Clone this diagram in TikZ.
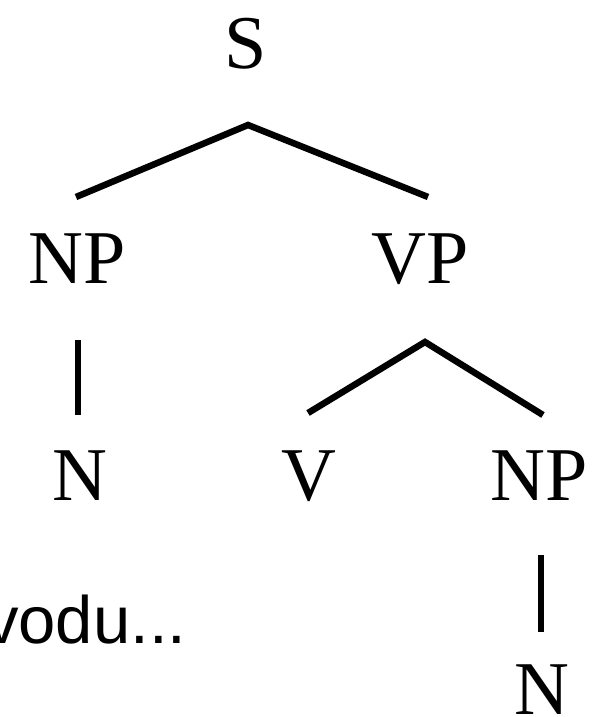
\documentclass[tikz,border=0pt]{standalone}
\usepackage{fontspec}
\setmainfont{Liberation Serif}
\newfontfamily\sansf{Liberation Sans}
\begin{document}
\begin{tikzpicture}[x=1pt,y=1pt,
  lab/.style={inner sep=0pt, anchor=base, font=\fontsize{76}{86}\selectfont},
  branch/.style={line width=6.5pt, line join=miter, line cap=butt}]
\useasboundingbox (0,0) rectangle (605,-717);
\node[lab] (S) at (246,-68) {S};
\node[lab] (NP1) at (77,-283) {NP};
\node[lab] (VP) at (420,-283) {VP};
\node[lab] (N1) at (80,-500) {N};
\node[lab] (V) at (309,-500) {V};
\node[lab] (NP2) at (539,-500) {NP};
\node[lab] (N2) at (542,-714) {N};
\node[inner sep=0pt, anchor=base west, font=\sansf\fontsize{67}{80}\selectfont] (txt) at (-15,-643) {vodu...};
% junction and end coordinates
\coordinate (Sj) at (248,-125);
\coordinate (Sl) at (76,-197);
\coordinate (Sr) at (428,-197);
\coordinate (VPj) at (425,-342);
\coordinate (VPl) at (308,-413);
\coordinate (VPr) at (543,-415);
\coordinate (NPa) at (78,-340);
\coordinate (NPb) at (78,-415);
\coordinate (NPc) at (541,-555);
\coordinate (NPd) at (541,-632);
\draw[branch] (Sl) -- (Sj) -- (Sr);
\draw[branch] (VPl) -- (VPj) -- (VPr);
\draw[branch] (NPa) -- (NPb);
\draw[branch] (NPc) -- (NPd);
\end{tikzpicture}
\end{document}
